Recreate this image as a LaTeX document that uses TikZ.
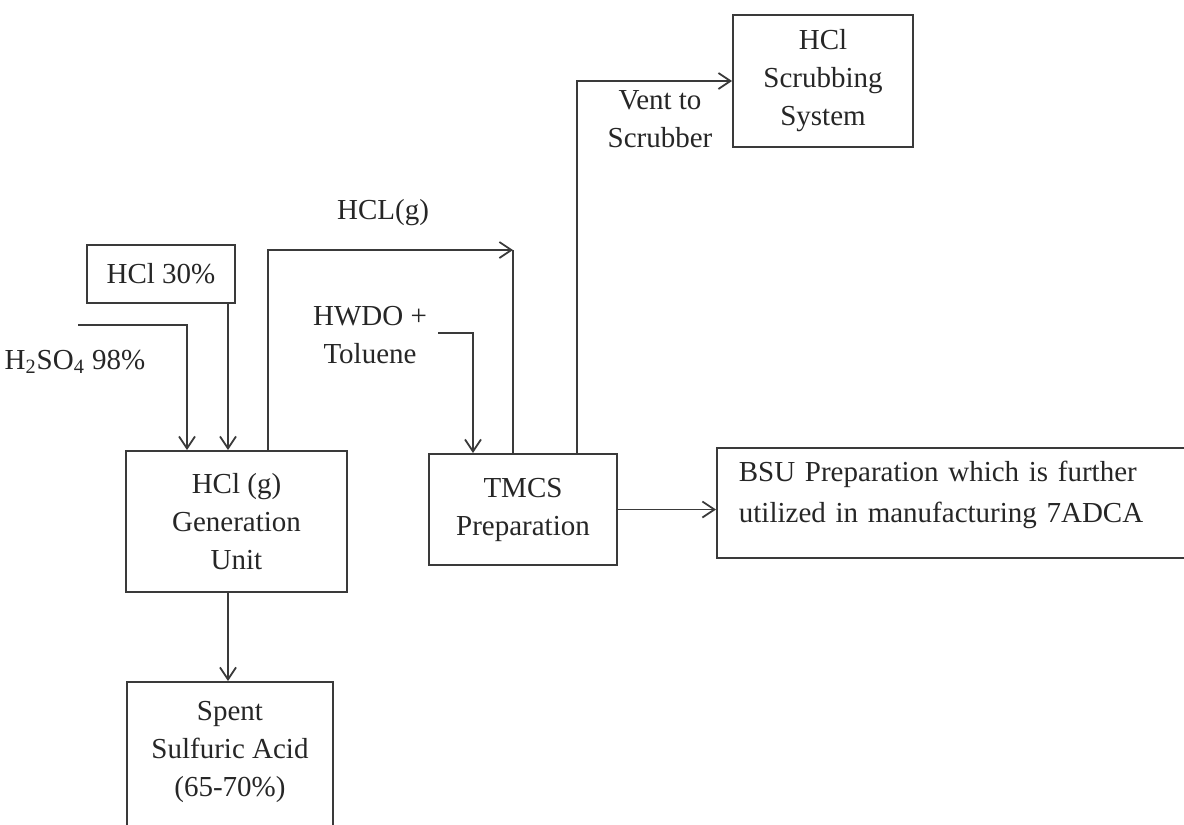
\documentclass[tikz,border=0pt]{standalone}
\usepackage{fontspec}
\setmainfont{Liberation Serif}
\usetikzlibrary{arrows.meta,positioning}
\definecolor{linegray}{HTML}{3A3A3A}
\definecolor{inkgray}{HTML}{262626}

\begin{document}
\begin{tikzpicture} [
        x = 0.5pt, y = -0.5pt,
        every node/.style = {text = inkgray, font = \fontsize{14.5}{19}\selectfont},
        box/.style = {draw = linegray, line width = 0.9pt, align = center, inner sep = 0},
        tag/.style = {align = center, inner sep = 0},
        pipe/.style = {draw = linegray, line width = 0.9pt},
        flow/.style = {pipe, -{Straight Barb[length = 6pt, width = 8pt]}}
        ]

        \useasboundingbox (0,0) rectangle (1184,825);
        \clip (0,0) rectangle (1184,825);

        % boxes
        \node [box, minimum width = 74pt, minimum height = 29pt] (hcl30) at (161,274) {HCl 30\%};
        \node [box, minimum width = 110.5pt, minimum height = 70.5pt] (gen) at (236.5,521.5) {HCl (g)\\Generation\\Unit};
        \node [box, minimum width = 103pt, anchor = north, inner ysep = 9.5pt, text depth = 60pt] (spent) at (230,681) {Spent\\Sulfuric Acid\\(65-70\%)};
        \node [box, minimum width = 94pt, minimum height = 55.5pt] (tmcs) at (523,509.5) {TMCS\\Preparation};
        \node [box, minimum width = 90pt, minimum height = 66pt] (scrub) at (823,81) {HCl\\Scrubbing\\System};
        \node [box, anchor = north west, align = left, text width = 250pt, inner xsep = 11pt, inner ysep = 6.5pt,
               font = \fontsize{14.5}{20.5}\selectfont, text depth = 32pt] (bsu) at (716,447)
              {BSU Preparation which is further\\utilized in manufacturing 7ADCA};

        % stream labels
        \node [tag] (h2so4) at (75,362) {H\textsubscript{2}SO\textsubscript{4} 98\%};
        \node [tag] (hclg) at (383,213) {HCL(g)};
        \node [tag] (hwdo) at (370,335) {HWDO +\\Toluene};
        \node [tag] (vent) at (660,119) {Vent to\\Scrubber};

        % junctions
        \coordinate (h2start) at (78,325);
        \coordinate (h2bend) at (187,325);
        \coordinate (hclx) at (228,0);
        \coordinate (gasx) at (268,0);
        \coordinate (gascorner) at (513,250);
        \coordinate (hwdostart) at (438,333);
        \coordinate (hwdobend) at (473,333);
        \coordinate (ventx) at (577,0);

        % streams
        \draw [flow] (h2start) -- (h2bend) -- (h2bend |- gen.north);
        \draw [flow] (hcl30.south -| hclx) -- (gen.north -| hclx);
        \draw [flow] (gen.south -| hclx) -- (spent.north -| hclx);
        \draw [flow] (gen.north -| gasx) |- (gascorner);
        \draw [pipe] (tmcs.north -| gascorner) -- (gascorner);
        \draw [flow] (hwdostart) -- (hwdobend) -- (tmcs.north -| hwdobend);
        \draw [flow] (tmcs.north -| ventx) |- (scrub.west);
        \draw [flow] (tmcs.east) -- (bsu.west |- tmcs.east);
\end{tikzpicture}
\end{document}
